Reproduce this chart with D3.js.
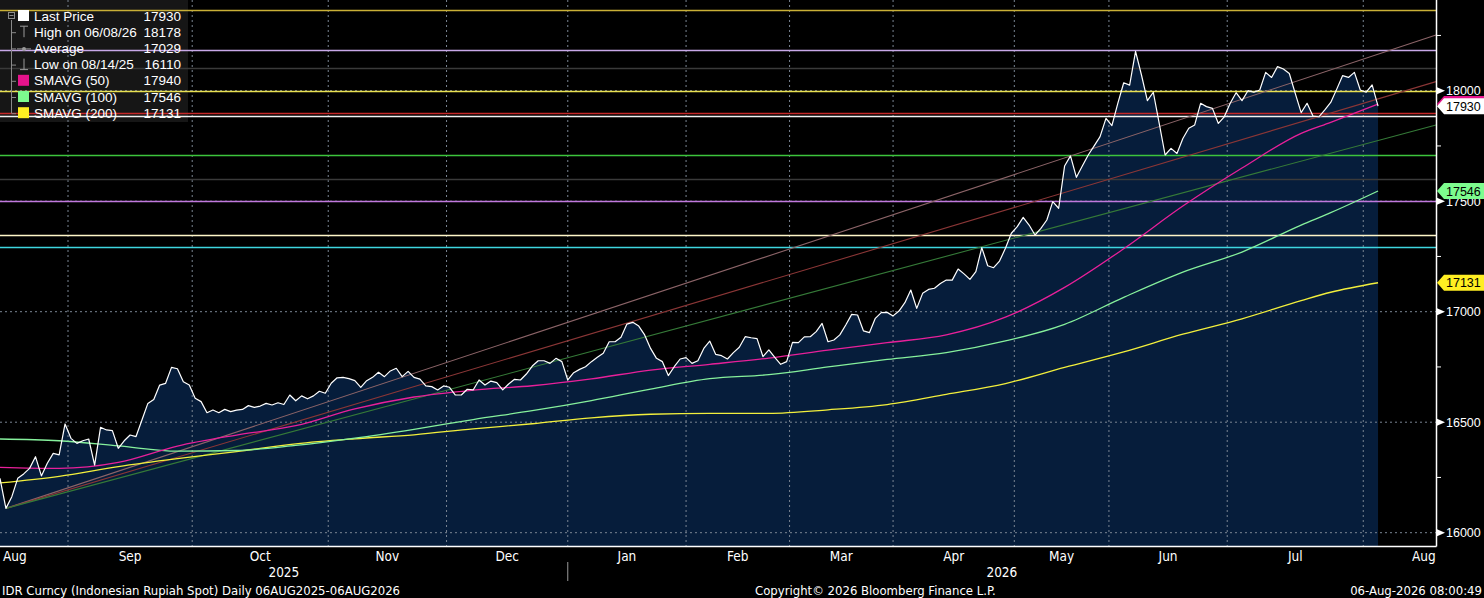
<!DOCTYPE html>
<html>
<head>
<meta charset="utf-8">
<script src="https://cdn.jsdelivr.net/npm/d3@7"></script>
<style>
html, body { margin: 0; padding: 0; background: #000; }
svg { display: block; }
</style>
</head>
<body>
<div id="chart"></div>
<script>
// daily closes, one per trading day
const prices = [
16246,16110,16163,16246,16266,16291,16344,16257,16314,16359,
16352,16492,16427,16404,16416,16424,16306,16477,16465,16462,
16382,16416,16442,16435,16510,16585,16603,16668,16676,16748,
16742,16683,16668,16608,16593,16543,16555,16543,16558,16548,
16555,16558,16575,16567,16573,16585,16578,16588,16580,16623,
16597,16619,16606,16619,16640,16631,16676,16701,16703,16697,
16688,16658,16688,16703,16726,16706,16732,16744,16706,16730,
16703,16695,16664,16661,16646,16664,16658,16623,16623,16649,
16646,16691,16668,16686,16679,16646,16673,16694,16691,16718,
16754,16778,16778,16766,16789,16774,16691,16724,16739,16751,
16774,16794,16812,16864,16864,16884,16944,16952,16935,16895,
16834,16789,16774,16711,16751,16786,16792,16766,16778,16834,
16867,16807,16801,16786,16815,16839,16887,16882,16878,16797,
16827,16793,16762,16774,16861,16860,16886,16887,16910,16947,
16864,16872,16895,16940,16988,16985,16913,16905,16970,16996,
16997,16981,17003,17041,17098,17015,17083,17101,17106,17128,
17143,17143,17193,17171,17146,17181,17290,17208,17199,17229,
17287,17355,17385,17427,17392,17347,17377,17415,17498,17468,
17659,17705,17608,17659,17709,17750,17792,17875,17842,17943,
18036,18025,18178,18071,17955,17993,17852,17709,17739,17716,
17784,17830,17845,17943,17928,17920,17852,17882,17943,17991,
17955,18000,17993,18003,18083,18060,18109,18098,18078,17988,
17901,17943,17885,17882,17913,17947,18006,18068,18060,18083,
18003,17993,18026,17930
];

// moving averages sampled at these day indices
const smaIdx = [0,10,20,30,40,50,60,70,80,90,100,110,120,130,140,150,160,170,180,190,200,210,220,225,233];
const sma50 = [16296,16291,16318,16392,16442,16484,16560,16614,16645,16665,16696,16736,16762,16790,16826,16860,16895,16975,17110,17285,17478,17650,17807,17857,17940];
const sma100 = [16424,16416,16393,16369,16372,16395,16428,16468,16512,16552,16598,16650,16697,16715,16750,16784,16815,16868,16943,17065,17179,17270,17392,17448,17546];
const sma200 = [16225,16255,16299,16335,16367,16402,16425,16443,16470,16493,16520,16536,16540,16540,16556,16580,16626,16675,16748,16818,16898,16968,17050,17088,17131];

// horizontal study levels
const levelValues = [18365,18186,18104,18000,17900,17885,17709,17600,17500,17346,17294];
const levelColors = ["#c9b037","#c8a8e8","#3a3a3a","#e8e050","#c42828","#f2f2f2","#3cc43c","#3a3a3a","#c078dc","#fff6c8","#3ed6e0"];

// trend lines from the august low
const trendStart = [1, 16110];
const trendEndIdx = 242.8;
const trendEndValues = [18252, 18041, 17845];
const trendColors = ["#8c6468","#8a3636","#357a38"];

const monthLabels = ["Aug","Sep","Oct","Nov","Dec","Jan","Feb","Mar","Apr","May","Jun","Jul","Aug"];
const monthBounds = [-6.5,11.5,32.5,55.5,75.5,96,116,133.5,151,171.5,187.5,207.5,230.5,251];
const yearLabels = ["2025","2026"];
const yearBounds = [0,96,242.8];

const yTicks = [16000,16500,17000,17500,18000];
const yMinor = [16250,16750,17250,17750,18250];

const legendNames = ["Last Price","High on 06/08/26","Average","Low on 08/14/25","SMAVG (50)","SMAVG (100)","SMAVG (200)"];
const legendValues = ["17930","18178","17029","16110","17940","17546","17131"];
const legendSwatch = ["#ffffff",null,null,null,"#e6138c","#7dfc8e","#ffee22"];

const lastPrice = 17930;
const tagValues = [17940, 17546, 17131, lastPrice];
const tagColors = ["#e6138c","#7dfc8e","#ffee22","#ffffff"];

const width = 1484;
const height = 598;
const plotRight = 1436;
const plotBottom = 546;

const svg = d3.select("#chart")
    .append("svg")
    .attr("width", width)
    .attr("height", height)
    .style("background", "#000");

const x = d3.scaleLinear().domain([0, 242.8]).range([0, plotRight]);
const y = d3.scaleLinear().domain([16000, 18000]).range([532.7, 90.7]);

const narrow = "'Liberation Sans Narrow','DejaVu Sans Condensed',sans-serif";
const sans = "'Liberation Sans',Arial,sans-serif";

// legend background goes under everything
svg.append("rect")
    .attr("x", 0).attr("y", 0)
    .attr("width", 188).attr("height", 122)
    .attr("fill", "#161616");

// area under the price
svg.append("path")
    .datum(prices)
    .attr("fill", "#061d3b")
    .attr("d", d3.area()
        .x((d, i) => x(i))
        .y0(plotBottom)
        .y1(d => y(d)));

// dotted grid
svg.append("g")
    .selectAll("line")
    .data(yTicks)
    .join("line")
    .attr("x1", 0).attr("x2", plotRight)
    .attr("y1", d => y(d)).attr("y2", d => y(d))
    .attr("stroke", "#7a8593")
    .attr("stroke-width", 1)
    .attr("stroke-dasharray", "2,3");

svg.append("g")
    .selectAll("line")
    .data(monthBounds.slice(1, -1))
    .join("line")
    .attr("x1", d => x(d)).attr("x2", d => x(d))
    .attr("y1", 0).attr("y2", plotBottom)
    .attr("stroke", "#7a8593")
    .attr("stroke-width", 1)
    .attr("stroke-dasharray", "2,3");

// horizontal levels
svg.append("g")
    .selectAll("line")
    .data(levelValues)
    .join("line")
    .attr("x1", 0).attr("x2", plotRight)
    .attr("y1", d => Math.round(y(d)) + 0.5).attr("y2", d => Math.round(y(d)) + 0.5)
    .attr("stroke", (d, i) => levelColors[i])
    .attr("stroke-width", 1.3);

// trend lines
svg.append("g")
    .selectAll("line")
    .data(trendEndValues)
    .join("line")
    .attr("x1", x(trendStart[0])).attr("y1", y(trendStart[1]))
    .attr("x2", x(trendEndIdx)).attr("y2", d => y(d))
    .attr("stroke", (d, i) => trendColors[i])
    .attr("stroke-width", 1.1);

// moving averages
const smaLine = d3.line()
    .x((d, i) => x(smaIdx[i]))
    .y(d => y(d))
    .curve(d3.curveMonotoneX);

[[sma200, "#f2ef3c"], [sma100, "#86f09c"], [sma50, "#e8209a"]].forEach(([s, c]) => {
    svg.append("path")
        .datum(s)
        .attr("fill", "none")
        .attr("stroke", c)
        .attr("stroke-width", 1.3)
        .attr("d", smaLine);
});

// price line
svg.append("path")
    .datum(prices)
    .attr("fill", "none")
    .attr("stroke", "#ffffff")
    .attr("stroke-width", 1.2)
    .attr("stroke-linejoin", "round")
    .attr("d", d3.line().x((d, i) => x(i)).y(d => y(d)));

// axes lines
svg.append("line")
    .attr("x1", plotRight + 0.5).attr("x2", plotRight + 0.5)
    .attr("y1", 0).attr("y2", plotBottom + 0.5)
    .attr("stroke", "#fff").attr("stroke-width", 1.5);
svg.append("line")
    .attr("x1", 0).attr("x2", plotRight + 0.5)
    .attr("y1", plotBottom + 0.5).attr("y2", plotBottom + 0.5)
    .attr("stroke", "#fff").attr("stroke-width", 1.5);

// right axis: minor ticks, arrows and labels
svg.append("g")
    .selectAll("line")
    .data(yMinor)
    .join("line")
    .attr("x1", plotRight).attr("x2", plotRight + 5)
    .attr("y1", d => y(d)).attr("y2", d => y(d))
    .attr("stroke", "#fff");

const yAxis = svg.append("g").selectAll("g").data(yTicks).join("g")
    .attr("transform", d => `translate(${plotRight},${y(d)})`);
yAxis.append("path")
    .attr("d", "M1,-3.5L9,0L1,3.5Z")
    .attr("fill", "#fff");
yAxis.append("text")
    .attr("x", 10)
    .attr("y", 4.5)
    .attr("fill", "#fff")
    .style("font-family", sans)
    .style("font-size", "12.5px")
    .text(d => d);

// value tags on the right axis (they sit over the axis labels, as in the terminal)
const tags = svg.append("g").selectAll("g").data(tagValues).join("g")
    .attr("transform", d => `translate(${plotRight},${y(d)})`);
tags.append("path")
    .attr("d", "M1,0L8,-8H48V8H8Z")
    .attr("fill", (d, i) => tagColors[i]);
tags.append("text")
    .attr("x", 10)
    .attr("y", 4.5)
    .attr("fill", "#000")
    .style("font-family", sans)
    .style("font-size", "12.5px")
    .text(d => d);

// bottom axis labels
svg.append("g")
    .selectAll("text")
    .data(monthLabels)
    .join("text")
    .attr("x", (d, i) => x((monthBounds[i] + monthBounds[i + 1]) / 2))
    .attr("y", 561)
    .attr("text-anchor", "middle")
    .attr("fill", "#fff")
    .style("font-family", narrow)
    .style("font-size", "13.5px")
    .text(d => d);

svg.append("g")
    .selectAll("text")
    .data(yearLabels)
    .join("text")
    .attr("x", (d, i) => x((yearBounds[i] + yearBounds[i + 1]) / 2))
    .attr("y", 577)
    .attr("text-anchor", "middle")
    .attr("fill", "#fff")
    .style("font-family", narrow)
    .style("font-size", "13.5px")
    .text(d => d);

svg.append("line")
    .attr("x1", x(yearBounds[1])).attr("x2", x(yearBounds[1]))
    .attr("y1", 562).attr("y2", 581)
    .attr("stroke", "#9a9a9a");

const footer = [
    ["IDR Curncy (Indonesian Rupiah Spot) Daily 06AUG2025-06AUG2026", 2, "start"],
    ["Copyright\u00a9 2026 Bloomberg Finance L.P.", 755, "start"],
    ["06-Aug-2026 08:00:49", 1482, "end"]
];
svg.append("g")
    .selectAll("text")
    .data(footer)
    .join("text")
    .attr("x", d => d[1])
    .attr("y", 595)
    .attr("text-anchor", d => d[2])
    .attr("fill", "#fff")
    .style("font-family", narrow)
    .style("font-size", "13px")
    .text(d => d[0]);

// legend
const lg = svg.append("g");
const rowY = i => 16 + i * 16.2;

lg.append("line")
    .attr("x1", 11.5).attr("x2", 11.5)
    .attr("y1", 20).attr("y2", rowY(6))
    .attr("stroke", "#8a8a8a");
lg.selectAll(".branch")
    .data(legendNames.slice(1))
    .join("line")
    .attr("class", "branch")
    .attr("x1", 11.5).attr("x2", 16)
    .attr("y1", (d, i) => rowY(i + 1) + 0.5).attr("y2", (d, i) => rowY(i + 1) + 0.5)
    .attr("stroke", "#8a8a8a");
lg.append("rect")
    .attr("x", 8.5).attr("y", 12.5).attr("width", 6).attr("height", 6)
    .attr("fill", "#161616").attr("stroke", "#8a8a8a");
lg.append("line")
    .attr("x1", 9.5).attr("x2", 13.5).attr("y1", 15.5).attr("y2", 15.5)
    .attr("stroke", "#8a8a8a");

lg.selectAll(".swatch")
    .data(legendSwatch)
    .join("rect")
    .attr("class", "swatch")
    .attr("x", 18).attr("y", (d, i) => rowY(i) - 6)
    .attr("width", 11).attr("height", 11)
    .attr("fill", d => d || "none");

// high / average / low icons
const iconColor = "#9a9a9a";
lg.append("path")
    .attr("d", `M20,${rowY(1) - 6}H28M24,${rowY(1) - 6}V${rowY(1) + 5}`)
    .attr("stroke", iconColor).attr("fill", "none");
lg.append("path")
    .attr("d", `M17,${rowY(2) + 0.5}H31`)
    .attr("stroke", iconColor).attr("fill", "none");
lg.append("circle")
    .attr("cx", 24).attr("cy", rowY(2) + 0.5).attr("r", 2)
    .attr("fill", iconColor);
lg.append("path")
    .attr("d", `M20,${rowY(3) + 5}H28M24,${rowY(3) + 5}V${rowY(3) - 6}`)
    .attr("stroke", iconColor).attr("fill", "none");

lg.selectAll(".name")
    .data(legendNames)
    .join("text")
    .attr("class", "name")
    .attr("x", 34)
    .attr("y", (d, i) => rowY(i) + 4.5)
    .attr("fill", "#fff")
    .style("font-family", sans)
    .style("font-size", "13.5px")
    .text(d => d);

lg.selectAll(".val")
    .data(legendValues)
    .join("text")
    .attr("class", "val")
    .attr("x", 181)
    .attr("y", (d, i) => rowY(i) + 4.5)
    .attr("text-anchor", "end")
    .attr("fill", "#fff")
    .style("font-family", sans)
    .style("font-size", "13.5px")
    .text(d => d);
</script>
</body>
</html>
